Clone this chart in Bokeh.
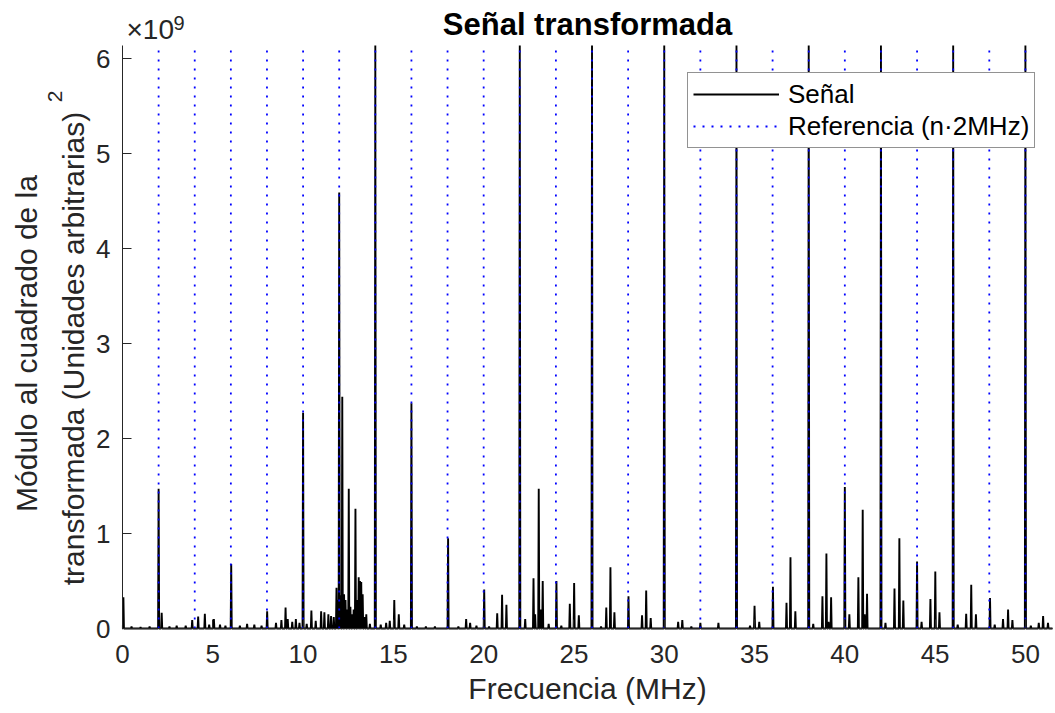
import numpy as np
from bokeh.plotting import figure
from bokeh.models import (Range1d, Label, Legend, LegendItem, FixedTicker,
                          ColumnDataSource)
from bokeh.embed import file_html
from bokeh.resources import INLINE

# ---------------- data ----------------
# peak positions (MHz) and heights (x 1e9, arbitrary units squared)
peak_mhz = [0.05, 0.5, 1.0, 1.5, 2.0, 2.17, 2.6, 3.0, 3.5, 3.86, 4.19, 4.56, 4.8,
            5.06, 5.4, 5.7, 6.02, 6.5, 6.9, 7.3, 7.7, 8.01, 8.5, 8.8, 9.03, 9.15,
            9.4, 9.6, 9.8, 10.0, 10.2, 10.46, 10.7, 11.0, 11.18, 11.4, 11.55, 11.7,
            11.85, 11.92, 12.0, 12.08, 12.17, 12.27, 12.35, 12.45, 12.53, 12.62,
            12.72, 12.8, 12.9, 13.0, 13.08, 13.15, 13.22, 13.3, 13.4, 13.5, 13.7,
            14.0, 14.3, 14.6, 14.8, 15.05, 15.3, 15.6, 16.0, 16.3, 16.8, 17.3,
            18.03, 18.6, 19.03, 19.25, 19.6, 20.03, 20.3, 20.75, 21.02, 21.26,
            22.0, 22.3, 22.76, 22.85, 23.05, 23.15, 23.27, 23.6, 24.03, 24.3,
            24.77, 25.01, 25.27, 26.0, 26.5, 26.79, 27.02, 27.24, 28.02, 28.77,
            29.0, 29.25, 30.0, 30.77, 31.0, 31.5, 32.0, 33.0, 34.0, 34.75, 35.0,
            35.26, 36.02, 36.77, 36.99, 37.26, 38.0, 38.25, 38.76, 38.98, 39.1,
            39.24, 40.0, 40.25, 40.75, 40.99, 41.1, 41.23, 42.0, 42.25, 42.75,
            43.02, 43.24, 44.0, 44.25, 44.74, 45.01, 45.24, 46.0, 46.25, 46.72,
            47.0, 47.26, 48.04, 48.3, 48.76, 49.04, 49.28, 50.0, 50.3, 50.74,
            50.98, 51.25]
peak_val = [0.33, 0.02, 0.015, 0.02, 1.47, 0.165, 0.02, 0.03, 0.03, 0.09, 0.125,
            0.155, 0.04, 0.10, 0.04, 0.03, 0.68, 0.03, 0.05, 0.04, 0.03, 0.18,
            0.06, 0.09, 0.22, 0.10, 0.07, 0.10, 0.06, 2.27, 0.05, 0.19, 0.08,
            0.18, 0.17, 0.15, 0.13, 0.12, 0.43, 0.30, 4.59, 0.35, 2.44, 0.36,
            0.30, 0.20, 1.47, 0.23, 0.15, 0.20, 1.26, 0.30, 0.54, 0.50, 0.49,
            0.36, 0.12, 0.15, 0.05, 6.14, 0.04, 0.06, 0.08, 0.30, 0.15, 0.04,
            2.37, 0.02, 0.02, 0.02, 0.95, 0.02, 0.10, 0.06, 0.03, 0.41, 0.02,
            0.16, 0.355, 0.25, 6.14, 0.10, 0.53, 0.15, 1.47, 0.20, 0.50, 0.05,
            0.50, 0.03, 0.26, 0.48, 0.14, 6.14, 0.02, 0.22, 0.645, 0.17, 0.34,
            0.14, 0.40, 0.11, 6.14, 0.07, 0.09, 0.02, 0.06, 0.06, 6.14, 0.03,
            0.24, 0.07, 0.44, 0.27, 0.75, 0.18, 6.14, 0.05, 0.34, 0.79, 0.07,
            0.33, 1.49, 0.15, 0.54, 1.25, 0.15, 0.365, 6.14, 0.06, 0.42, 0.95,
            0.295, 0.705, 0.07, 0.31, 0.60, 0.17, 6.14, 0.04, 0.155, 0.46, 0.15,
            0.32, 0.04, 0.10, 0.20, 0.09, 6.14, 0.03, 0.06, 0.13, 0.06]

ref_mhz = [2, 4, 6, 8, 10, 12, 14, 16, 18, 20, 22, 24, 26, 28, 30, 32, 34, 36,
           38, 40, 42, 44, 46, 48, 50]
x_ticks = [0, 5, 10, 15, 20, 25, 30, 35, 40, 45, 50]
y_ticks = [0, 1, 2, 3, 4, 5, 6]

X_MAX = 51.5
Y_MAX = 6.137

FONT = "Liberation Sans"
TXT = "#262626"

# ---------------- page geometry (pixels) ----------------
W, H = 1055, 713
L, R, T, B = 122, 1052, 45, 628          # data area inside the canvas
sx = (R - L) / X_MAX
sy = (B - T) / Y_MAX
x_lo, x_hi = -L / sx, X_MAX + (W - R) / sx
y_lo, y_hi = -(H - B) / sy, Y_MAX + T / sy

# ---------------- build the signal trace from the peak table ----------------
half = 0.03
order = np.argsort(peak_mhz)
xs, ys = [0.0], [0.0]
for i in order:
    f, v = peak_mhz[i], min(peak_val[i], Y_MAX)
    xs += [max(f - half, 0.0), f, f + half]
    ys += [0.0, v, 0.0]
xs.append(X_MAX)
ys.append(0.0)

sig = ColumnDataSource(dict(x=xs, y=ys))
refs = ColumnDataSource(dict(x0=ref_mhz, x1=ref_mhz,
                             y0=[0.0] * len(ref_mhz), y1=[Y_MAX] * len(ref_mhz)))

p = figure(width=W, height=H, x_range=Range1d(x_lo, x_hi),
           y_range=Range1d(y_lo, y_hi), output_backend="svg",
           toolbar_location=None, title=None, min_border=0,
           background_fill_color="white", border_fill_color="white")
p.outline_line_color = None
p.grid.visible = False

r_sig = p.line("x", "y", source=sig, line_color="black", line_width=1.9)
r_ref = p.segment("x0", "y0", "x1", "y1", source=refs, line_color="#0000FF",
                  line_width=1.8, line_dash="2 7")

# axes, drawn at x=0 / y=0 inside the canvas-wide frame
xa, ya = p.xaxis[0], p.yaxis[0]
xa.fixed_location = 0
ya.fixed_location = 0
xa.bounds = (0, X_MAX)
ya.bounds = (0, Y_MAX)
for ax in (xa, ya):
    ax.axis_line_color = TXT
    ax.axis_line_width = 1
    ax.major_tick_line_color = TXT
    ax.major_tick_in = 9
    ax.major_tick_out = 0
    ax.minor_tick_line_color = None
    ax.major_label_text_font = FONT
    ax.major_label_text_font_size = "26px"
    ax.major_label_text_color = TXT

xa.ticker = FixedTicker(ticks=x_ticks)
ya.ticker = FixedTicker(ticks=y_ticks)
xa.major_label_standoff = 16
ya.major_label_standoff = 12
xa.axis_label = "Frecuencia (MHz)"
xa.axis_label_text_font = FONT
xa.axis_label_text_font_size = "30px"
xa.axis_label_text_font_style = "normal"
xa.axis_label_text_color = TXT
xa.axis_label_standoff = 6

# title
p.add_layout(Label(x=(L + R) / 2, y=H - 24, x_units="screen", y_units="screen",
                   text="Señal transformada", text_align="center",
                   text_baseline="middle", text_font=FONT,
                   text_font_size="31px", text_font_style="bold",
                   text_color="black"))

# y label (two lines + superscript)
p.add_layout(Label(x=26, y=H - 343, x_units="screen", y_units="screen",
                   text="Módulo al cuadrado de la", angle=np.pi / 2,
                   text_align="center", text_baseline="middle",
                   text_font=FONT, text_font_size="30px", text_color=TXT))
p.add_layout(Label(x=73, y=H - 348, x_units="screen", y_units="screen",
                   text="transformada (Unidades arbitrarias)", angle=np.pi / 2,
                   text_align="center", text_baseline="middle",
                   text_font=FONT, text_font_size="30px", text_color=TXT))
p.add_layout(Label(x=54, y=H - 96, x_units="screen", y_units="screen",
                   text="2", angle=np.pi / 2,
                   text_align="center", text_baseline="middle",
                   text_font=FONT, text_font_size="21px", text_color=TXT))

# exponent marker
p.add_layout(Label(x=126, y=H - 29, x_units="screen", y_units="screen",
                   text="×10", text_align="left", text_baseline="middle",
                   text_font=FONT, text_font_size="28px", text_color=TXT))
p.add_layout(Label(x=173, y=H - 22, x_units="screen", y_units="screen",
                   text="9", text_align="left", text_baseline="middle",
                   text_font=FONT, text_font_size="20px", text_color=TXT))

legend = Legend(items=[LegendItem(label="Señal", renderers=[r_sig]),
                       LegendItem(label="Referencia (n·2MHz)", renderers=[r_ref])],
                location=(687, H - 148))
legend.label_text_font = FONT
legend.label_text_font_size = "26px"
legend.label_text_color = "black"
legend.glyph_width = 86
legend.glyph_height = 32
legend.label_height = 32
legend.label_standoff = 9
legend.spacing = 0
legend.padding = 5
legend.margin = 0
legend.border_line_color = TXT
legend.border_line_width = 1
legend.background_fill_color = "white"
legend.background_fill_alpha = 1
p.add_layout(legend)

open("out.html", "w").write(file_html(p, INLINE))
